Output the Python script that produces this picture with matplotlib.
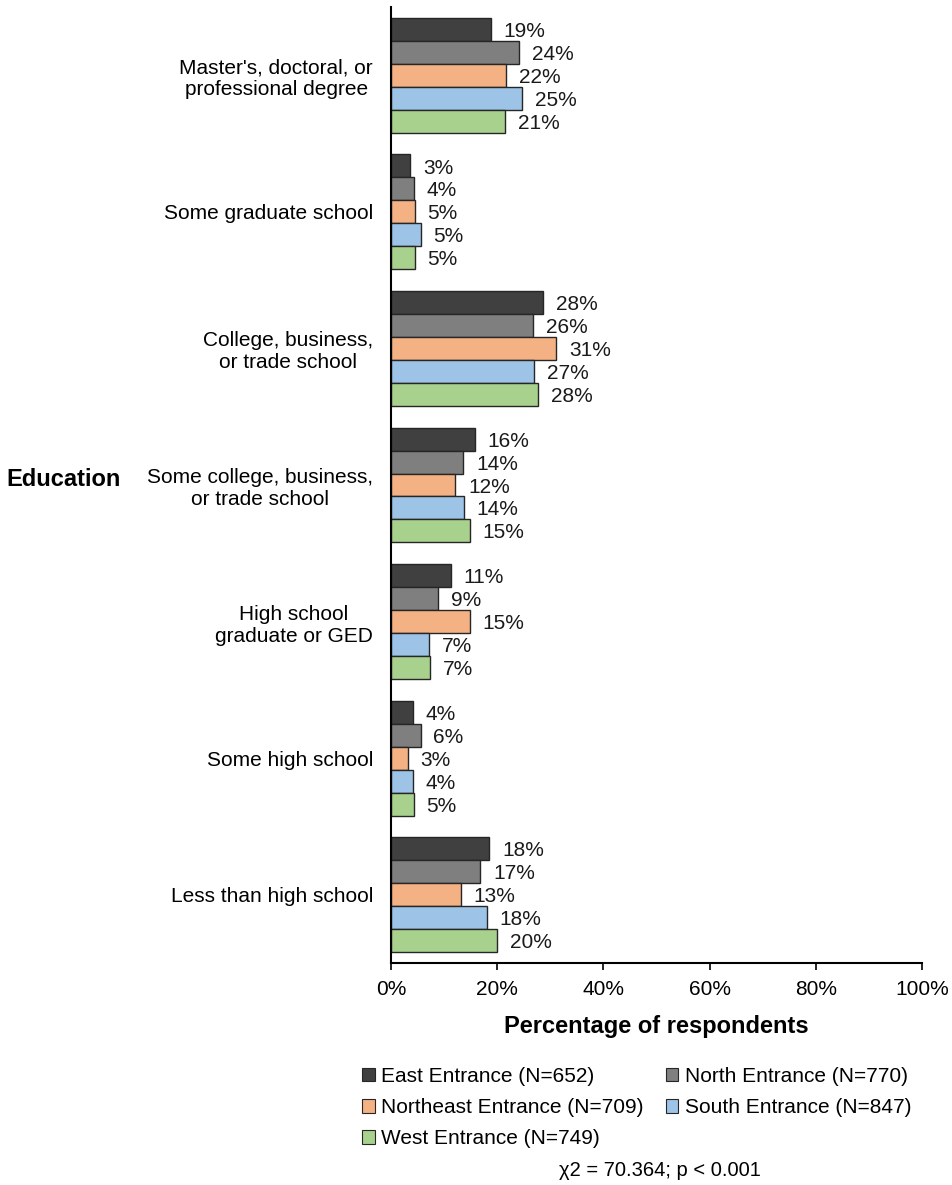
import matplotlib
matplotlib.use("Agg")
import matplotlib.pyplot as plt
import numpy as np
from matplotlib.patches import Patch

plt.rcParams['font.family'] = ['Liberation Sans', 'DejaVu Sans']

categories = ["Master's, doctoral, or\nprofessional degree", "Some graduate school",
              "College, business,\nor trade school", "Some college, business,\nor trade school",
              "High school\ngraduate or GED", "Some high school", "Less than high school"]
series_names = ["East Entrance (N=652)", "North Entrance (N=770)", "Northeast Entrance (N=709)",
                "South Entrance (N=847)", "West Entrance (N=749)"]
east = [18.8, 3.6, 28.6, 15.8, 11.3, 4.1, 18.5]
north = [24.1, 4.3, 26.7, 13.6, 8.9, 5.6, 16.8]
northeast = [21.7, 4.5, 31.1, 12.1, 14.9, 3.2, 13.2]
south = [24.7, 5.6, 26.9, 13.7, 7.2, 4.1, 18.1]
west = [21.5, 4.5, 27.7, 14.9, 7.3, 4.3, 20.0]
labels_east = ["19%", "3%", "28%", "16%", "11%", "4%", "18%"]
labels_north = ["24%", "4%", "26%", "14%", "9%", "6%", "17%"]
labels_northeast = ["22%", "5%", "31%", "12%", "15%", "3%", "13%"]
labels_south = ["25%", "5%", "27%", "14%", "7%", "4%", "18%"]
labels_west = ["21%", "5%", "28%", "15%", "7%", "5%", "20%"]
xticks = [0, 20, 40, 60, 80, 100]
xtick_labels = ["0%", "20%", "40%", "60%", "80%", "100%"]

colors = ["#404040", "#7f7f7f", "#f4b183", "#9dc3e6", "#a9d18e"]
data = [east, north, northeast, south, west]
lab = [labels_east, labels_north, labels_northeast, labels_south, labels_west]

fig = plt.figure(figsize=(9.53, 11.85), dpi=100)
ax = fig.add_axes([391/953, 1-963/1185, (922-391)/953, (963-7)/1185])

n = len(categories)
ypos = np.arange(n)[::-1].astype(float)
bh = 0.168
for i, (vals, c, lb) in enumerate(zip(data, colors, lab)):
    y = ypos + (2 - i) * bh
    ax.barh(y, vals, height=bh, color=c, edgecolor="#262626", linewidth=1.0, label=series_names[i])
    for yy, v, t in zip(y, vals, lb):
        ax.text(v + 2.4, yy - 0.015, t, va="center", ha="left", fontsize=15, color="#1a1a1a")

ax.set_xlim(0, 100)
ax.set_ylim(-0.5, n - 0.5)
ax.set_xticks(xticks)
ax.set_xticklabels(xtick_labels, fontsize=15)
ax.set_yticks(ypos)
ax.set_yticklabels(categories, fontsize=15, ha="right", multialignment="center")
ax.tick_params(axis="y", length=0, pad=13)
ax.tick_params(axis="x", length=5, width=1.2, direction="out", color="black", pad=7)
for s in ["top", "right"]:
    ax.spines[s].set_visible(False)
for s in ["left", "bottom"]:
    ax.spines[s].set_linewidth(1.5)
    ax.spines[s].set_color("black")

ax.set_xlabel("Percentage of respondents", fontsize=17, fontweight="bold", labelpad=12)
fig.text(64/953, 1-480/1185, "Education", fontsize=17, fontweight="bold", ha="center", va="center")

order = [0, 2, 4, 1, 3]
handles = [Patch(facecolor=colors[k], edgecolor="#262626", linewidth=0.8) for k in order]
fig.legend(handles, [series_names[k] for k in order], loc="upper left",
           bbox_to_anchor=(362/953, 1-1067/1185), borderpad=0, borderaxespad=0,
           ncol=2, frameon=False, fontsize=15, handlelength=0.62, handleheight=0.62,
           handletextpad=0.3, columnspacing=1.05, labelspacing=0.58)
fig.text(660/953, 1-1171/1185, "χ2 = 70.364; p < 0.001", fontsize=14.5, ha="center", va="center")

fig.savefig("out.png", dpi=100)
